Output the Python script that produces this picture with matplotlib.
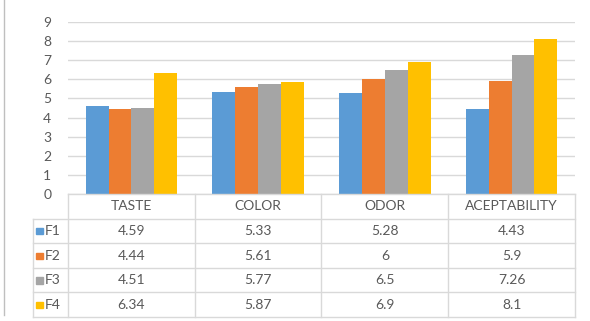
import matplotlib.pyplot as plt
import numpy as np

categories = ['TASTE', 'COLOR', 'ODOR', 'ACEPTABILITY']
series = ['F1', 'F2', 'F3', 'F4']
f1 = [4.59, 5.33, 5.28, 4.43]
f2 = [4.44, 5.61, 6, 5.9]
f3 = [4.51, 5.77, 6.5, 7.26]
f4 = [6.34, 5.87, 6.9, 8.1]
cell_text = [['4.59', '5.33', '5.28', '4.43'],
             ['4.44', '5.61', '6', '5.9'],
             ['4.51', '5.77', '6.5', '7.26'],
             ['6.34', '5.87', '6.9', '8.1']]
colors = ['#5B9BD5', '#ED7D31', '#A5A5A5', '#FFC000']

W, H = 590, 321
txt = '#595959'
line_c = '#D9D9D9'
fs = 10
plt.rcParams['font.family'] = ['Lato', 'DejaVu Sans']

fig = plt.figure(figsize=(W / 100, H / 100), dpi=100)

def px_axes(x0, y0, x1, y1):
    return fig.add_axes([x0 / W, 1 - y1 / H, (x1 - x0) / W, (y1 - y0) / H])

# bar chart
ax = px_axes(68, 22, 575, 194)
ax.set_xlim(0, 4)
ax.set_ylim(0, 9)
bw = 0.18
x = np.arange(4) + 0.5
for i, vals in enumerate([f1, f2, f3, f4]):
    ax.bar(x + (i - 1.5) * bw, vals, bw, color=colors[i], zorder=3)
ax.set_yticks(range(10))
ax.set_yticklabels([str(v) for v in range(10)])
ax.yaxis.grid(True, color=line_c, lw=1, zorder=0)
ax.tick_params(axis='y', length=0, pad=12, labelsize=fs, labelcolor=txt)
ax.set_xticks([])
for s in ax.spines.values():
    s.set_visible(False)

# data table
lab_w = 35 / 127
tab = px_axes(33, 194, 575, 317)
tab.set_xlim(-lab_w, 4)
tab.set_ylim(5, 0)
tab.axis('off')
kw = dict(color=line_c, lw=1, clip_on=False)
# horizontal lines
tab.plot([0, 4], [0, 0], **kw)
for r in range(1, 6):
    tab.plot([-lab_w, 4], [r, r], **kw)
# vertical lines
tab.plot([-lab_w, -lab_w], [1, 5], **kw)
for c in range(5):
    tab.plot([c, c], [0, 5], **kw)
for c, name in enumerate(categories):
    tab.text(c + 0.5, 0.5, name, ha='center', va='center', fontsize=fs, color=txt)
for r, name in enumerate(series):
    tab.add_patch(plt.Rectangle((-lab_w + 0.025, r + 1.38), 0.05, 0.26,
                                color=colors[r], clip_on=False))
    tab.text(-lab_w + 0.09, r + 1.5, name, ha='left', va='center', fontsize=fs, color=txt)
    for c in range(4):
        tab.text(c + 0.5, r + 1.5, cell_text[r][c], ha='center', va='center',
                 fontsize=fs, color=txt)

# left frame line
fig.add_artist(plt.Line2D([4 / W, 4 / W], [0.02, 1], color='#BFBFBF', lw=1))

fig.savefig('out.png', dpi=100)
